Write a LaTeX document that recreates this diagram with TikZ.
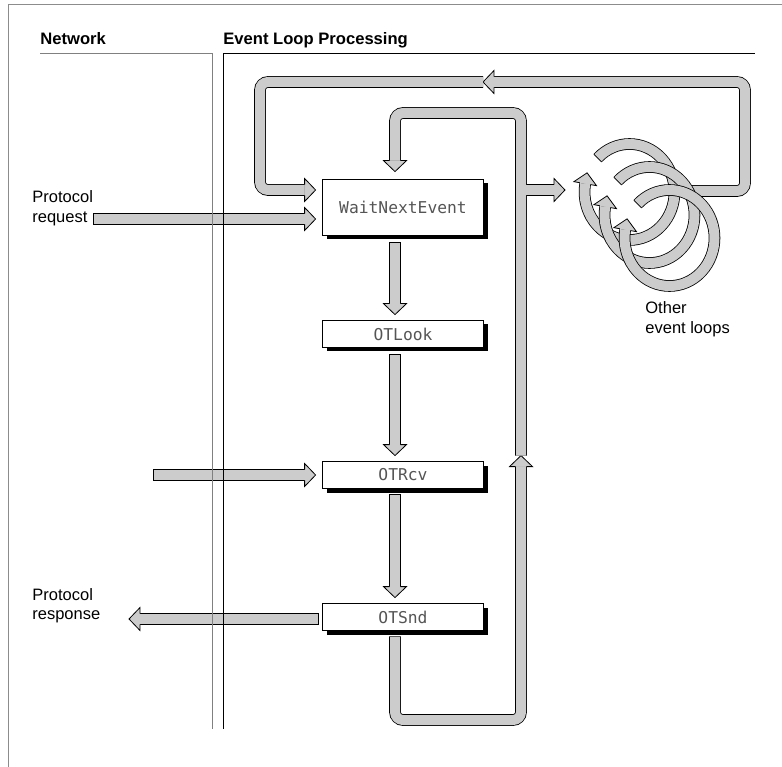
\documentclass[tikz,border=0pt]{standalone}
\usepackage{fontspec}
\setmainfont{Liberation Sans}
\newfontfamily\codefont{DejaVu Sans Mono}
\usetikzlibrary{calc,shadows}

\definecolor{fatgray}{RGB}{204,204,204}
\definecolor{framegray}{RGB}{140,140,140}
\definecolor{codegray}{RGB}{85,85,85}

\tikzset{every picture/.style={line width=0.8pt}}
\tikzset{
  callbox/.style={draw, fill=white, line width=0.8pt, minimum width=161pt, minimum height=27pt, inner sep=0pt,
    font=\codefont\fontsize{16.3}{18}\selectfont, text=codegray,
    general shadow={fill=black, shadow xshift=4pt, shadow yshift=-4pt}},
  fatout/.style={draw=black, line width=11.6pt, rounded corners=8pt},
  fatin/.style={draw=fatgray, line width=10pt, rounded corners=8pt},
  lbl/.style={align=left, anchor=base west, inner sep=0pt, font=\fontsize{16.5}{19.5}\selectfont},
  colhead/.style={anchor=base west, inner sep=0pt, font=\bfseries\fontsize{16.6}{20}\selectfont},
}
% fat shaft: outline then interior
\newcommand{\fatpath}[2][]{\draw[fatout] #2; \draw[fatin,#1] #2;}
% fat hollow head: #1 base point, #2 direction
\newcommand{\fathead}[2]{\filldraw[fill=fatgray, draw=black, line width=0.8pt, shift={#1}, rotate=#2] (0,-5.4) -- (0,-11.5) -- (11,0) -- (0,11.5) -- (0,5.4);}

\begin{document}
\begin{tikzpicture}[x=1pt,y=1pt,yscale=-1]
\useasboundingbox (0,0) rectangle (782,767);

% frame
\draw[framegray] (8.5,767) -- (8.5,4.5) -- (782,4.5);

% Column headers
\node[colhead] (nethead) at (40,45) {Network};
\node[colhead] (evhead) at (223,45) {Event Loop Processing};

% Calls
\node[callbox, minimum height=56pt] (wait) at (403,207.5) {WaitNextEvent};
\node[callbox] (look) at (403,334) {OTLook};
\node[callbox] (rcv) at (403,475) {OTRcv};
\node[callbox] (snd) at (403,617) {OTSnd};

% guide coordinates
\coordinate (spine) at (395,0);
\coordinate (rise) at (521,0);
\coordinate (lowturn) at (0,720);
\coordinate (hightop) at (0,113);
\coordinate (outtop) at (0,82);
\coordinate (outleft) at (260,0);
\coordinate (outright) at (745,0);
\coordinate (branch) at (0,190);
\coordinate (branchend) at (554,190);
\coordinate (loopjoin) at (686,191);
\coordinate (looptip) at (483,82);
\coordinate (resptail) at (319,619);
\coordinate (resphead) at (140,619);
\coordinate (ring1) at (629.5,192);
\coordinate (ring2) at (649.5,215);
\coordinate (ring3) at (669.5,238);

% down the chain
\fatpath[shorten <=0.8pt]{($(wait.south -| spine)+(0,6.5)$) -- ($(look.north -| spine)+(0,-16.5)$)}
\fathead{($(look.north -| spine)+(0,-16.5)$)}{90}
\fatpath[shorten <=0.8pt]{($(look.south -| spine)+(0,6.5)$) -- ($(rcv.north -| spine)+(0,-16.5)$)}
\fathead{($(rcv.north -| spine)+(0,-16.5)$)}{90}
\fatpath[shorten <=0.8pt]{($(rcv.south -| spine)+(0,5.5)$) -- ($(snd.north -| spine)+(0,-16.5)$)}
\fathead{($(snd.north -| spine)+(0,-16.5)$)}{90}

% back round to WaitNextEvent
\fatpath[shorten <=0.8pt]{($(snd.south -| spine)+(0,5.5)$) -- (spine |- lowturn) -- (rise |- lowturn) -- ($(rcv.north -| rise)+(0,5.5)$)}
\fathead{($(rcv.north -| rise)+(0,5.5)$)}{270}
\draw[fatout] ($(rcv.north -| rise)+(0,-5.5)$) -- (rise |- hightop) -- (spine |- hightop) -- ($(wait.north -| spine)+(0,-18.5)$);
\draw[fatout] (rise |- branch) -- (branchend);
\draw[fatin] ($(rcv.north -| rise)+(0,-5.5)$) -- (rise |- hightop) -- (spine |- hightop) -- ($(wait.north -| spine)+(0,-18.5)$);
\draw[fatin] (rise |- branch) -- (branchend);
\fathead{($(wait.north -| spine)+(0,-18.5)$)}{90}
\fathead{(branchend)}{0}

% outer loop
\fatpath{(loopjoin) -- (outright |- loopjoin) -- (outright |- outtop) -- ($(looptip)+(11,0)$)}
\fathead{($(looptip)+(11,0)$)}{180}
\fatpath{(looptip) -- (outleft |- outtop) -- (outleft |- branch) -- ($(wait.west)+(-17.5,-17.5)$)}
\fathead{($(wait.west)+(-17.5,-17.5)$)}{0}

% network side
\fatpath[shorten <=0.8pt]{(93,219) -- ($(wait.west)+(-17.5,11.5)$)}
\fathead{($(wait.west)+(-17.5,11.5)$)}{0}
\fatpath[shorten <=0.8pt]{(153,475) -- ($(rcv.west)+(-17.5,0)$)}
\fathead{($(rcv.west)+(-17.5,0)$)}{0}
\fatpath[shorten >=0.8pt]{(resphead) -- (resptail)}
\fathead{(resphead)}{180}

% other event loops
\foreach \r in {ring1,ring2,ring3}{
  \fatpath{($(\r)+(-135:45 and 48)$) arc[start angle=-135, end angle=190, x radius=45, y radius=48]}
  \draw ($(\r)+(-135:39.6 and 42.6)$) -- ($(\r)+(-135:50.4 and 53.4)$);
  \fathead{($(\r)+(190:45 and 48)$)}{280}
}

% column rules
\draw[gray] (40,53.5) -- (212.5,53.5) -- (212.5,728.5);
\draw (223.5,728.5) -- (223.5,53.5) -- (755,53.5);

% Text Node
\node[lbl] (req) at (32,222.2) {Protocol\\request};
% Text Node
\node[lbl] (resp) at (32,619.5) {Protocol\\response};
% Text Node
\node[lbl] (other) at (645,333.3) {Other\\event loops};

\end{tikzpicture}
\end{document}
